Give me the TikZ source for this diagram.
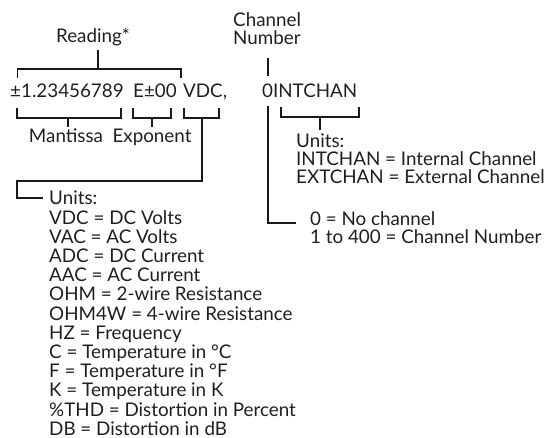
\documentclass[tikz,border=0pt]{standalone}
\usepackage{fontspec}
\setmainfont{Lato}
\begin{document}
\begin{tikzpicture}[x=1pt,y=-1pt,
  lbl/.style={anchor=base west,inner sep=0pt,font=\fontsize{18.8}{19}\selectfont,text=black!88},
  brk/.style={line width=1.6pt,line cap=butt,line join=miter,draw=black!90}]
\useasboundingbox (0,0) rectangle (547,438);
% --- top labels
\node[lbl,anchor=base] (reading) at (93,43) {Reading*};
\node[lbl] (chanA) at (233,27) {Channel};
\node[lbl] (chanB) at (233,45) {Number};
% --- main reading line
\node[lbl] (mant) at (10,98) {±1.23456789};
\node[lbl] (expo) at (133,98) {E±00};
\node[lbl] (unit) at (183,98) {VDC,};
\node[lbl] (chan) at (262,98) {0INTCHAN};
% --- lower labels
\node[lbl,anchor=base] (mantlbl) at (66,143) {Mantissa};
\node[lbl,anchor=base] (expolbl) at (152,143) {Exponent};
% --- units list
\foreach \t [count=\i from 0] in {Units:,VDC = DC Volts,VAC = AC Volts,ADC = DC Current,AAC = AC Current,OHM = 2-wire Resistance,OHM4W = 4-wire Resistance,HZ = Frequency,C = Temperature in °C,F = Temperature in °F,K = Temperature in K,\%THD = Distortion in Percent,DB = Distortion in dB}
  \node[lbl] (u\i) at (49,205+19.2*\i) {\t};
% --- channel unit list
\node[lbl] (cu0) at (296,148) {Units:};
\node[lbl] (cu1) at (296,166) {INTCHAN = Internal Channel};
\node[lbl] (cu2) at (296,184) {EXTCHAN = External Channel};
\node[lbl] (cr0) at (310,226) {0 = No channel};
\node[lbl] (cr1) at (310,244) {1 to 400 = Channel Number};
% --- bracket coordinates
\coordinate (rdS) at (98,50);
\coordinate (rdL) at (17.5,78); \coordinate (rdR) at (181,78);
\coordinate (mL) at (17,108); \coordinate (mR) at (121,108); \coordinate (mS) at (68,127);
\coordinate (eL) at (133,108); \coordinate (eR) at (171,108); \coordinate (eS) at (152,127);
\coordinate (vL) at (184,108); \coordinate (vR) at (219,108); \coordinate (vS) at (202,118);
\coordinate (vBend) at (17,181); \coordinate (vEnd) at (43,198);
\coordinate (cTop) at (268,58); \coordinate (cTopB) at (268,76);
\coordinate (cLong) at (268,106); \coordinate (cEnd) at (296,223);
\coordinate (iL) at (281,107); \coordinate (iR) at (359,107); \coordinate (iS) at (320,130);
% --- brackets
\draw[brk] (rdL) -- (rdL |- 0,69) -- (rdR |- 0,69) -- (rdR);
\draw[brk] (rdS) -- (rdS |- 0,69);
\draw[brk] (mL) -- (mL |- 0,118) -- (mR |- 0,118) -- (mR);
\draw[brk] (mS) -- (mS |- 0,118);
\draw[brk] (eL) -- (eL |- 0,118) -- (eR |- 0,118) -- (eR);
\draw[brk] (eS) -- (eS |- 0,118);
\draw[brk] (vL) -- (vL |- 0,118) -- (vR |- 0,118) -- (vR);
\draw[brk] (vS) |- (vBend) |- (vEnd);
\draw[brk] (cTop) -- (cTopB);
\draw[brk] (cLong) |- (cEnd);
\draw[brk] (iL) -- (iL |- 0,117) -- (iR |- 0,117) -- (iR);
\draw[brk] (iS) -- (iS |- 0,117);
\end{tikzpicture}
\end{document}
